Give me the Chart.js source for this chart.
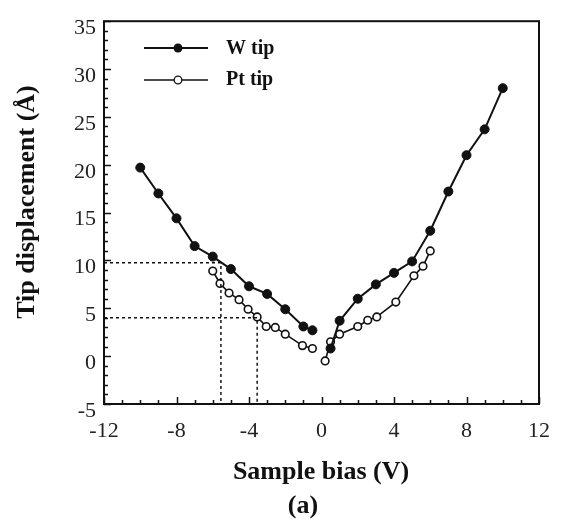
<!DOCTYPE html>
<html>
<head>
<meta charset="utf-8">
<script src="https://cdn.jsdelivr.net/npm/chart.js@4/dist/chart.umd.min.js"></script>
<style>
  html, body { margin: 0; padding: 0; background: #fff; }
  canvas { display: block; }
</style>
</head>
<body>
<canvas id="tipChart" width="564" height="526"></canvas>
<script>
// Tip displacement vs sample bias, W and Pt tips (panel a)

// W tip, negative and positive bias branches (V, Å)
const wNegBias = [-10, -9, -8, -7, -6, -5, -4, -3, -2, -1, -0.5];
const wNegDisp = [19.7, 17.0, 14.4, 11.5, 10.4, 9.1, 7.3, 6.5, 4.9, 3.1, 2.7];
const wPosBias = [0.5, 1, 2, 3, 4, 5, 6, 7, 8, 9, 10];
const wPosDisp = [0.8, 3.7, 6.0, 7.5, 8.7, 9.9, 13.1, 17.2, 21.0, 23.7, 28.0];

// Pt tip
const ptNegBias = [-6, -5.6, -5.1, -4.55, -4.05, -3.55, -3.05, -2.55, -2, -1.05, -0.5];
const ptNegDisp = [8.9, 7.6, 6.6, 5.9, 4.9, 4.1, 3.1, 3.0, 2.3, 1.1, 0.8];
const ptPosBias = [0.2, 0.5, 1, 2, 2.55, 3.05, 4.1, 5.1, 5.6, 6];
const ptPosDisp = [-0.5, 1.5, 2.3, 3.1, 3.75, 4.1, 5.65, 8.4, 9.4, 11.0];

// dotted guide lines (bias where each curve crosses the marked displacement)
const guideBias = [-5.55, -3.55];
const guideDisp = [9.75, 4.0];

const xTicks = [-12, -8, -4, 0, 4, 8, 12];
const yTicks = [-5, 0, 5, 10, 15, 20, 25, 30, 35];

const SERIF = "'Liberation Serif', 'Times New Roman', serif";
const INK = '#111';

// join two branches with a null so the line breaks at zero bias
function branches(b1, d1, b2, d2) {
  const pts = b1.map((x, i) => ({ x, y: d1[i] }));
  pts.push({ x: 0, y: null });
  b2.forEach((x, i) => pts.push({ x, y: d2[i] }));
  return pts;
}

function guide(i) {
  return [
    { x: xTicks[0], y: guideDisp[i] },
    { x: guideBias[i], y: guideDisp[i] },
    { x: guideBias[i], y: yTicks[0] }
  ];
}

const frame = {
  id: 'frame',
  afterDraw(chart) {
    const { ctx, chartArea: a, scales: { x, y } } = chart;
    ctx.save();
    ctx.strokeStyle = INK;
    ctx.lineWidth = 1.5;

    // inward ticks
    ctx.beginPath();
    for (let v = -5; v <= 35; v++) {
      const py = Math.round(y.getPixelForValue(v)) + 0.5;
      const len = v % 5 === 0 ? 7 : 4;
      ctx.moveTo(a.left, py); ctx.lineTo(a.left + len, py);
    }
    for (let v = -12; v <= 12; v++) {
      const px = Math.round(x.getPixelForValue(v)) + 0.5;
      const len = v % 4 === 0 ? 7 : 4;
      ctx.moveTo(px, a.bottom); ctx.lineTo(px, a.bottom - len);
    }
    ctx.stroke();

    ctx.lineWidth = 2;
    ctx.strokeRect(a.left, a.top, a.right - a.left, a.bottom - a.top);

    // legend
    ctx.lineWidth = 2;
    ctx.beginPath(); ctx.moveTo(144, 48); ctx.lineTo(208, 48); ctx.stroke();
    ctx.fillStyle = INK;
    ctx.beginPath(); ctx.arc(178, 48, 4.5, 0, Math.PI * 2); ctx.fill();
    ctx.lineWidth = 1.3;
    ctx.beginPath(); ctx.moveTo(144, 80); ctx.lineTo(208, 80); ctx.stroke();
    ctx.fillStyle = '#fff';
    ctx.beginPath(); ctx.arc(178, 80, 3.8, 0, Math.PI * 2); ctx.fill(); ctx.stroke();

    ctx.fillStyle = INK;
    ctx.textBaseline = 'middle';
    ctx.textAlign = 'left';
    ctx.font = 'bold 20px ' + SERIF;
    ctx.fillText('W tip', 226, 49);
    ctx.fillText('Pt tip', 226, 80);

    // axis titles
    ctx.textAlign = 'center';
    ctx.font = 'bold 26px ' + SERIF;
    ctx.fillText('Sample bias (V)', 321, 472);
    ctx.fillText('(a)', 303, 506);
    ctx.save();
    ctx.translate(27, 202);
    ctx.rotate(-Math.PI / 2);
    ctx.fillText('Tip displacement (\u00C5)', 0, 0);
    ctx.restore();

    ctx.restore();
  }
};

new Chart(document.getElementById('tipChart'), {
  type: 'scatter',
  data: {
    datasets: [
      {
        label: 'guide1', data: guide(0), showLine: true,
        borderColor: INK, borderWidth: 1.5, borderDash: [3, 3], pointRadius: 0
      },
      {
        label: 'guide2', data: guide(1), showLine: true,
        borderColor: INK, borderWidth: 1.5, borderDash: [3, 3], pointRadius: 0
      },
      {
        label: 'W tip', data: branches(wNegBias, wNegDisp, wPosBias, wPosDisp),
        showLine: true, borderColor: INK, borderWidth: 2,
        pointRadius: 4.5, pointBackgroundColor: INK, pointBorderColor: INK, pointBorderWidth: 1
      },
      {
        label: 'Pt tip', data: branches(ptNegBias, ptNegDisp, ptPosBias, ptPosDisp),
        showLine: true, borderColor: INK, borderWidth: 1.6,
        pointRadius: 3.8, pointBackgroundColor: '#fff', pointBorderColor: INK, pointBorderWidth: 1.6
      }
    ]
  },
  options: {
    responsive: false,
    animation: false,
    devicePixelRatio: 1,
    layout: { padding: { left: 0, right: 12, top: 16, bottom: 0 } },
    plugins: { legend: { display: false }, tooltip: { enabled: false } },
    scales: {
      x: {
        type: 'linear', min: -12, max: 12,
        afterFit(scale) { scale.height = 122; },
        afterBuildTicks(scale) { scale.ticks = xTicks.map(v => ({ value: v })); },
        grid: { display: false, drawTicks: false },
        border: { display: false },
        ticks: {
          autoSkip: false, maxRotation: 0, padding: 14, color: '#222',
          font: { family: SERIF, size: 22 }
        }
      },
      y: {
        type: 'linear', min: -5, max: 35,
        afterFit(scale) { scale.width = 104; },
        afterBuildTicks(scale) { scale.ticks = yTicks.map(v => ({ value: v })); },
        grid: { display: false, drawTicks: false },
        border: { display: false },
        ticks: {
          autoSkip: false, padding: 8, labelOffset: 7, color: '#222',
          font: { family: SERIF, size: 22 }
        }
      }
    }
  },
  plugins: [frame]
});
</script>
</body>
</html>
